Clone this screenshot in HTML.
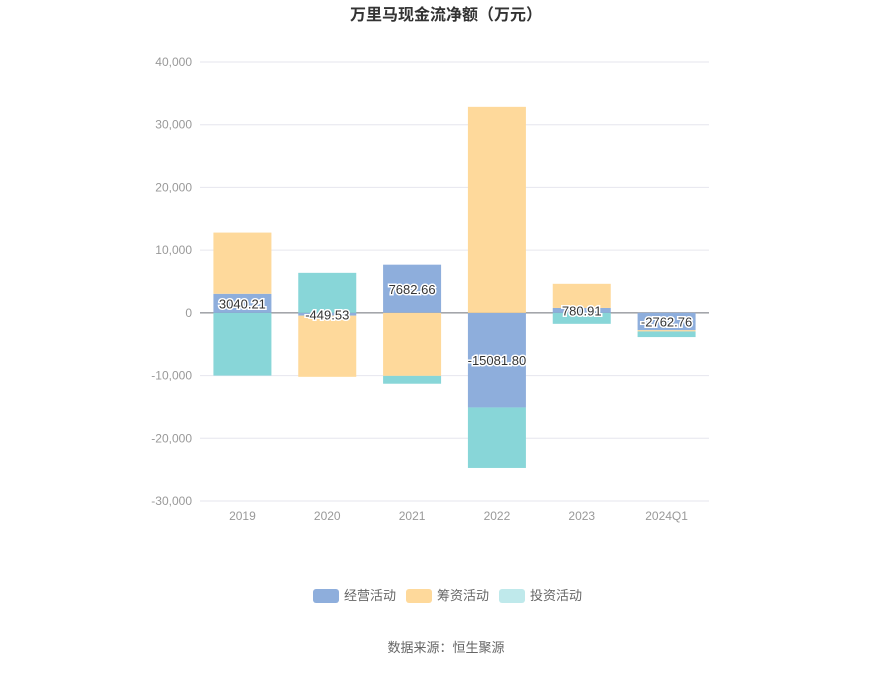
<!DOCTYPE html>
<html><head><meta charset="utf-8"><style>
body{margin:0;background:#fff;font-family:"Liberation Sans","Noto Sans CJK SC",sans-serif}
</style></head><body>
<svg id="c" width="893" height="668" xmlns="http://www.w3.org/2000/svg" style="font-family:'Liberation Sans','Noto Sans CJK SC',sans-serif">
<text x="446" y="20" text-anchor="middle" font-size="16" font-weight="bold" fill="#333">万里马现金流净额（万元）</text>
<g id="grid"></g><g id="bars"></g><g id="labels"></g>
<g>
<g><rect x="313" y="589" width="26" height="14" rx="3" fill="#8eaedc"/><text x="344" y="600" font-size="13" fill="#666">经营活动</text></g>
<g><rect x="406" y="589" width="26" height="14" rx="3" fill="#fed99b"/><text x="437" y="600" font-size="13" fill="#666">筹资活动</text></g>
<g><rect x="499" y="589" width="26" height="14" rx="3" fill="#bfe9eb"/><text x="530" y="600" font-size="13" fill="#666">投资活动</text></g>
</g>
<text x="446" y="652" text-anchor="middle" font-size="13" fill="#666">数据来源：恒生聚源</text>
</svg>
<script>
const categories=["2019","2020","2021","2022","2023","2024Q1"];
const operating=[3040.21,-449.53,7682.66,-15081.80,780.91,-2762.76];
const financing=[9760,-9750,-10050,32850,3850,-200];
const investing=[-10000,6380,-1250,-9650,-1750,-900];
const ticks=[40000,30000,20000,10000,0,-10000,-20000,-30000];
const tickLabels=["40,000","30,000","20,000","10,000","0","-10,000","-20,000","-30,000"];
const NS="http://www.w3.org/2000/svg";
const plotTop=62,plotBot=501,vmax=40000,vmin=-30000,plotLeft=200,plotRight=709;
function yScale(v){return plotTop+(vmax-v)/(vmax-vmin)*(plotBot-plotTop);}
const band=(plotRight-plotLeft)/categories.length;
function cx(i){return plotLeft+band*(i+0.5);}
function mk(t,a,p){const e=document.createElementNS(NS,t);for(const k in a)e.setAttribute(k,a[k]);p.appendChild(e);return e;}
const gGrid=document.getElementById('grid'),gBars=document.getElementById('bars'),gLab=document.getElementById('labels');
ticks.forEach((t,i)=>{
 const l=mk('line',{x1:plotLeft,x2:plotRight,y1:yScale(t),y2:yScale(t),stroke:t===0?'#6e7079':'#e6e6ee','stroke-width':1},gGrid);
 
 
 const tx=mk('text',{x:192,y:yScale(t)+4,'text-anchor':'end','font-size':12,fill:'#999'},gGrid);tx.textContent=tickLabels[i];
 
 
});
categories.forEach((c,i)=>{
 const tx=mk('text',{x:cx(i),y:520,'text-anchor':'middle','font-size':12,fill:'#999'},gGrid);tx.textContent=c;
 
 
});
const series=[[operating,'#8eaedc','operating'],[financing,'#fed99b','financing'],[investing,'#88d6d8','investing']];
const barW=58;
categories.forEach((c,i)=>{
 let pos=0,neg=0;
 series.forEach(([arr,col,nm])=>{
  const v=arr[i];let y0,y1;
  if(v>=0){y0=pos;y1=pos+v;pos=y1;}else{y0=neg;y1=neg+v;neg=y1;}
  const r=mk('rect',{x:cx(i)-barW/2,y:Math.min(yScale(y0),yScale(y1)),width:barW,height:Math.abs(yScale(y0)-yScale(y1)),fill:col},gBars);
  
  
 });
 const v=operating[i];
 const t=mk('text',{x:cx(i),y:(yScale(0)+yScale(v))/2+5,'text-anchor':'middle','font-size':13,fill:'#333',stroke:'#fff','stroke-width':3,'paint-order':'stroke'},gLab);
 t.textContent=v.toFixed(2);
 
 
});
</script>
</body></html>
